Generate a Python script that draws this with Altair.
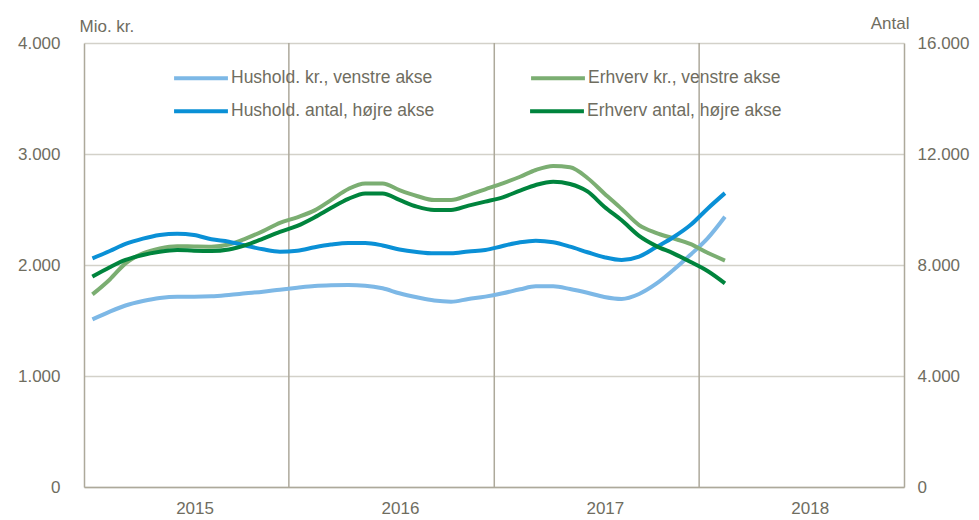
import altair as alt
import pandas as pd

# Monthly observations, Jan 2015 - Feb 2018
months = pd.date_range("2015-01-01", "2018-02-01", freq="MS")

hushold_kr = [1510, 1580, 1635, 1675, 1703, 1715, 1715, 1718, 1730, 1745, 1760, 1778,
              1795, 1810, 1817, 1820, 1814, 1790, 1745, 1709, 1680, 1670, 1694, 1715,
              1745, 1781, 1808, 1808, 1784, 1750, 1712, 1694, 1739, 1829, 1955, 2090,
              2240, 2435]
erhverv_kr = [1735, 1870, 2015, 2105, 2150, 2170, 2167, 2165, 2185, 2238, 2305, 2380,
              2430, 2492, 2585, 2685, 2735, 2735, 2675, 2622, 2585, 2585, 2630, 2682,
              2736, 2795, 2856, 2892, 2880, 2784, 2645, 2505, 2360, 2290, 2240, 2190,
              2110, 2040]
hushold_antal = [8240, 8505, 8758, 8950, 9082, 9130, 9082, 8925, 8840, 8700, 8565, 8480,
                 8515, 8640, 8735, 8795, 8795, 8705, 8560, 8470, 8420, 8420, 8490, 8540,
                 8685, 8818, 8875, 8818, 8660, 8460, 8280, 8180, 8300, 8640, 9000, 9430,
                 10030, 10590]
erhverv_antal = [7580, 7918, 8181, 8361, 8480, 8541, 8516, 8505, 8560, 8715, 8950, 9195,
                 9410, 9720, 10050, 10380, 10578, 10578, 10343, 10102, 9983, 9983, 10140, 10282,
                 10440, 10680, 10884, 11003, 10920, 10650, 10100, 9610, 9050, 8690, 8420, 8120,
                 7785, 7340]

left_names = ["Hushold. kr., venstre akse", "Erhverv kr., venstre akse"]
left_colors = ["#7DB8E6", "#7BAE72"]
right_names = ["Hushold. antal, højre akse", "Erhverv antal, højre akse"]
right_colors = ["#0A90D6", "#00843D"]
years = [2015, 2016, 2017, 2018]
year_starts = ["2016-01-01", "2017-01-01", "2018-01-01"]
left_ticks = [0, 1000, 2000, 3000, 4000]
right_ticks = [0, 4000, 8000, 12000, 16000]

mid = [(m + pd.Timedelta(days=15)).strftime("%Y-%m-%d") for m in months]

left_df = pd.concat([
    pd.DataFrame({"date": mid, "value": hushold_kr, "serie": left_names[0]}),
    pd.DataFrame({"date": mid, "value": erhverv_kr, "serie": left_names[1]}),
])
right_df = pd.concat([
    pd.DataFrame({"date": mid, "value": hushold_antal, "serie": right_names[0]}),
    pd.DataFrame({"date": mid, "value": erhverv_antal, "serie": right_names[1]}),
])
rules_df = pd.DataFrame({"date": year_starts})

TXT = "#6F6D5F"
GRID = "#D3D1C9"
VLINE = "#ADA99B"
FONT = "Liberation Sans"

xscale = alt.Scale(type="utc",
                   domain=[alt.DateTime(year=2015, month=1, date=1, utc=True),
                           alt.DateTime(year=2019, month=1, date=1, utc=True)])
xaxis = alt.Axis(values=[alt.DateTime(year=y, month=7, date=17, utc=True) for y in years],
                 labelExpr="utcFormat(datum.value, '%Y')", grid=False, ticks=False,
                 domainColor=VLINE, domainWidth=1.5, labelPadding=13,
                 labelFontSize=17, labelColor=TXT, title=None, labelFont=FONT)
X = alt.X("date:T", scale=xscale, axis=xaxis)


def legend(y, colpad):
    return alt.Legend(orient="none", legendX=88, legendY=y, columns=2,
                      title=None, symbolType="stroke", symbolSize=2900,
                      symbolStrokeWidth=4, labelFontSize=17.5,
                      labelColor=TXT, labelFont=FONT, labelOffset=1,
                      columnPadding=colpad, labelLimit=400)


rules = alt.Chart(rules_df).mark_rule(color=VLINE, strokeWidth=1.5).encode(x=X)

left = alt.Chart(left_df).mark_line(strokeWidth=4, interpolate="monotone").encode(
    x=X,
    y=alt.Y("value:Q",
            scale=alt.Scale(domain=[0, 4000]),
            axis=alt.Axis(values=left_ticks, grid=True, gridColor=GRID, gridWidth=1.5,
                          ticks=False, domainColor=VLINE, domainWidth=1.5,
                          labelPadding=24, labelFontSize=17, labelColor=TXT, labelFont=FONT,
                          labelExpr="replace(format(datum.value, ','), ',', '.')",
                          title="Mio. kr.", titleAngle=0, titleAlign="left",
                          titleBaseline="alphabetic", titleX=-5, titleY=-12,
                          titleFontSize=17, titleFontWeight="normal", titleColor=TXT,
                          titleFont=FONT)),
    color=alt.Color("serie:N", scale=alt.Scale(domain=left_names, range=left_colors),
                    legend=legend(6, 90)),
)

right = alt.Chart(right_df).mark_line(strokeWidth=4, interpolate="monotone").encode(
    x=X,
    y=alt.Y("value:Q",
            scale=alt.Scale(domain=[0, 16000]),
            axis=alt.Axis(orient="right", values=right_ticks, grid=False,
                          ticks=False, domainColor=VLINE, domainWidth=1.5,
                          labelPadding=13, labelFontSize=17, labelColor=TXT, labelFont=FONT,
                          labelExpr="replace(format(datum.value, ','), ',', '.')",
                          title="Antal", titleAngle=0, titleAlign="right",
                          titleBaseline="alphabetic", titleX=5, titleY=-15,
                          titleFontSize=17, titleFontWeight="normal", titleColor=TXT,
                          titleFont=FONT)),
    color=alt.Color("serie:N", scale=alt.Scale(domain=right_names, range=right_colors),
                    legend=legend(39, 87)),
)

chart = alt.layer(rules, left, right).resolve_scale(
    y="independent", color="independent"
).properties(
    width=820, height=444,
    autosize=alt.AutoSizeParams(type="none"),
    padding={"left": 76, "top": 35, "right": 67, "bottom": 30},
).configure(font=FONT).configure_view(stroke=None)

chart.save("out.html", embed_options={"renderer": "svg", "actions": False})
